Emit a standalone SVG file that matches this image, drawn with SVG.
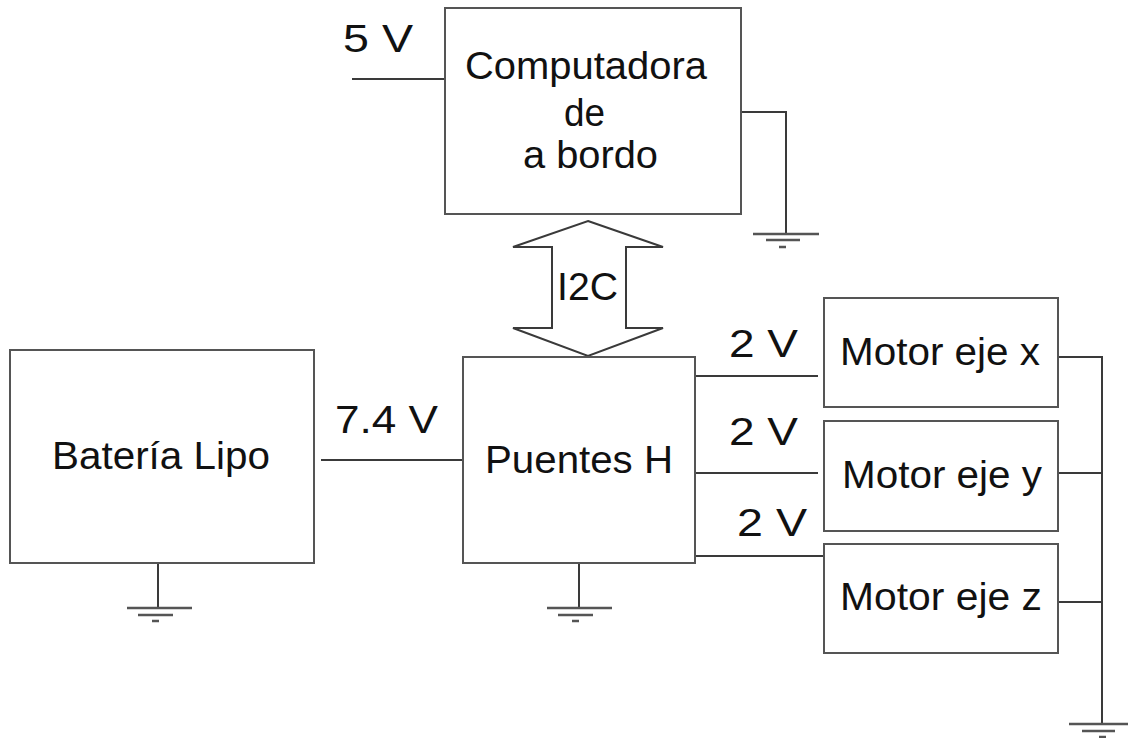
<svg xmlns="http://www.w3.org/2000/svg" width="1128" height="738" viewBox="0 0 1128 738">
<style>
.box{fill:#fff;stroke:#555;stroke-width:2}
.w{fill:none;stroke:#3a3a3a;stroke-width:2}
.g{fill:none;stroke:#555;stroke-width:2.5}
text{font-family:"Liberation Sans",Arial,sans-serif;font-size:38px;fill:#111}
.c{text-anchor:middle}
</style>
<rect width="1128" height="738" fill="#fff"/>
<g id="connectors">
<path class="w" d="M352 79H445"/>
<path class="w" d="M741 112H786V234"/>
<path class="w" d="M321 460H463"/>
<path class="w" d="M158 563V608"/>
<path class="w" d="M579 563V608"/>
<path class="w" d="M695 376H818"/>
<path class="w" d="M695 473H818"/>
<path class="w" d="M695 556H824"/>
<path class="w" d="M1058 357H1102V724"/>
<path class="w" d="M1058 473H1102"/>
<path class="w" d="M1058 602H1102"/>
<g id="grounds">
<path class="g" d="M753 234H819M766 240H800M779 247H786"/>
<path class="g" d="M127 608H192M138 615H173M152 621H159"/>
<path class="g" d="M547 608H612M558 615H593M572 621H579"/>
<path class="g" d="M1069 724H1128M1082 731H1115M1099 737H1106"/>
</g>
<g id="i2c">
<path fill="#fff" stroke="#3a3a3a" stroke-width="2" d="M588 221L663 247H626V328H663L588 356L513 328H552V247H513Z"/>
<text x="557" y="300" textLength="61" lengthAdjust="spacingAndGlyphs">I2C</text>
</g>
<text x="343" y="52" textLength="70" lengthAdjust="spacingAndGlyphs">5  V</text>
<text x="335" y="433" textLength="103" lengthAdjust="spacingAndGlyphs">7.4  V</text>
<text x="729" y="357" textLength="69" lengthAdjust="spacingAndGlyphs">2  V</text>
<text x="729" y="445" textLength="69" lengthAdjust="spacingAndGlyphs">2  V</text>
<text x="737" y="536" textLength="70" lengthAdjust="spacingAndGlyphs">2  V</text>
</g>
<g id="computadora">
<rect class="box" x="445" y="8" width="296" height="206"/>
<text x="465" y="79" textLength="242" lengthAdjust="spacingAndGlyphs">Computadora</text>
<text x="564" y="126" textLength="41" lengthAdjust="spacingAndGlyphs">de</text>
<text x="523" y="168" textLength="135" lengthAdjust="spacingAndGlyphs">a bordo</text>
</g>
<g id="bateria">
<rect class="box" x="10" y="350" width="304" height="213"/>
<text x="52" y="469" textLength="218" lengthAdjust="spacingAndGlyphs">Batería Lipo</text>
</g>
<g id="puentes">
<rect class="box" x="463" y="357" width="232" height="206"/>
<text x="485" y="473" textLength="188" lengthAdjust="spacingAndGlyphs">Puentes H</text>
</g>
<g id="motor-x">
<rect class="box" x="824" y="298" width="234" height="109"/>
<text x="840" y="365" textLength="200" lengthAdjust="spacingAndGlyphs">Motor eje x</text>
</g>
<g id="motor-y">
<rect class="box" x="824" y="421" width="234" height="110"/>
<text x="842" y="488" textLength="200" lengthAdjust="spacingAndGlyphs">Motor eje y</text>
</g>
<g id="motor-z">
<rect class="box" x="824" y="544" width="234" height="109"/>
<text x="840" y="610" textLength="202" lengthAdjust="spacingAndGlyphs">Motor eje z</text>
</g>
</svg>
